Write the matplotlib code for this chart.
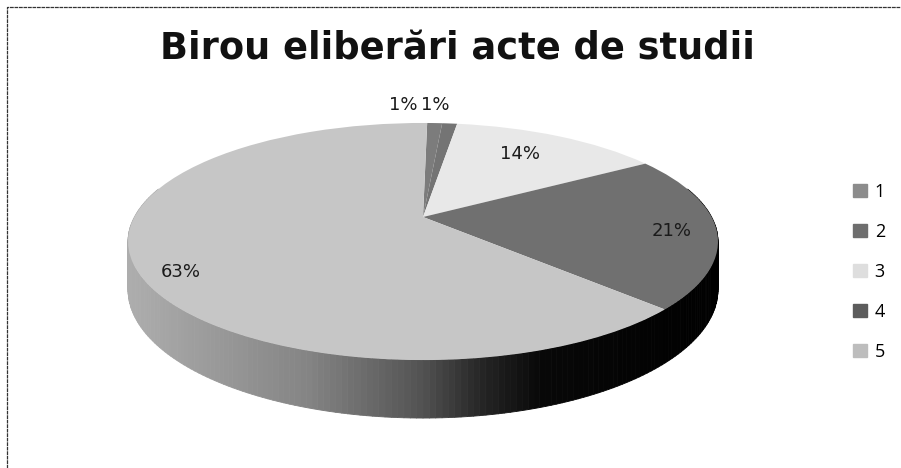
import matplotlib
matplotlib.use('Agg')
import matplotlib.pyplot as plt
from matplotlib.collections import PolyCollection
from matplotlib.colors import LinearSegmentedColormap
from matplotlib.transforms import Transform
import numpy

labels = ['1', '2', '3', '4', '5']
values = [1, 1, 14, 21, 63]
pct_labels = ['1%', '1%', '14%', '21%', '63%']
colors = ['#7c7c7c', '#747474', '#e8e8e8', '#707070', '#c6c6c6']
legend_colors = ['#8c8c8c', '#6e6e6e', '#dedede', '#5c5c5c', '#bdbdbd']

# label positions in picture pixels
pct_x = [403, 435, 520, 672, 181]
pct_y = [105, 105, 154, 231, 272]


# tilted pie seen in perspective, so the centre sits above the middle of the ellipse
class Tilt(Transform):
    input_dims = 2
    output_dims = 2
    is_separable = False
    has_inverse = False

    def transform_non_affine(self, pts):
        pts = numpy.asarray(pts, dtype=float)
        d = 1 + 0.2068 * pts[:, 1]
        return numpy.column_stack([423 + 288.6 * pts[:, 0] / d,
                                   (217 - 68.6 * pts[:, 1]) / d])


def rim(theta, depth=0.0):
    u, v = numpy.sin(theta), numpy.cos(theta)
    d = 1 + 0.2068 * v
    return numpy.column_stack([423 + 288.6 * u / d, (217 - 68.6 * v + depth) / d])


fig = plt.figure(figsize=(9.01, 4.68), dpi=100)
ax = fig.add_axes([0, 0, 1, 1])

start = 1.0
wedges, _ = ax.pie(values, colors=colors, startangle=90 - start, counterclock=False,
                   wedgeprops={'linewidth': 0})
tilt = Tilt()
for w in wedges:
    w.set_transform(tilt + ax.transData)
    w.set_zorder(3)

ax.set_aspect('auto')
ax.set_xlim(0, 901)
ax.set_ylim(468, 0)
ax.axis('off')

# side wall, front half of the rim, dark towards the right
side = LinearSegmentedColormap.from_list('side', [(0, '#adadad'), (0.3, '#858585'), (0.5, '#525252'),
                                                  (0.6, '#262626'), (0.7, '#080808'), (1, '#000000')])
th = numpy.radians(numpy.arange(75, 286, 1.0))
top = rim(th)
bot = rim(th, 46)
quads = [[top[i], top[i + 1], bot[i + 1], bot[i]] for i in range(len(th) - 1)]
shade = (top[:-1, 0] - 130) / 590
shade = shade.clip(0, 1)
wall = PolyCollection(quads, array=shade, cmap=side, clim=(0, 1), edgecolors='face', linewidths=0.6, zorder=2)
ax.add_collection(wall)

for x, y, s in zip(pct_x, pct_y, pct_labels):
    ax.text(x, y, s, ha='center', va='center', fontsize=13, family='DejaVu Sans', color='#1a1a1a', zorder=5)

ax.text(457, 60, 'Birou eliberări acte de studii', ha='center', va='baseline', fontsize=26.5,
        family='DejaVu Sans', fontweight='bold', color='#111111')

# frame, only left and top are visible
ax.plot([7, 7, 901], [468, 7, 7], color='#333333', lw=0.9, ls=(0, (3, 0.6)))

handles = [plt.Rectangle((0, 0), 1, 1, color=c) for c in legend_colors]
ax.legend(handles, labels, loc='center left', bbox_to_anchor=(853 / 901, 1 - 272 / 468), frameon=False,
          handlelength=0.75, handleheight=0.75, handletextpad=0.45, labelspacing=1.22,
          borderpad=0, borderaxespad=0, prop={'family': 'Open Sans', 'size': 13})

plt.savefig('out.png', dpi=100)
